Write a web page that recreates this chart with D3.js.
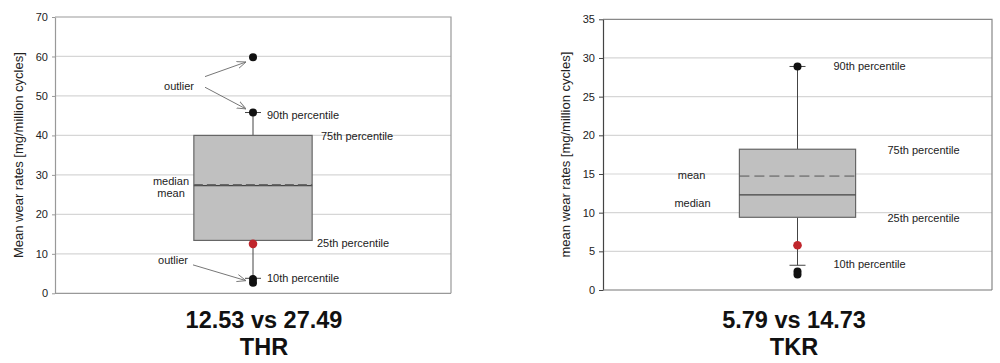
<!DOCTYPE html>
<html>
<head>
<meta charset="utf-8">
<script src="https://cdn.jsdelivr.net/npm/d3@7"></script>
<style>
  body { margin: 0; background: #fff; }
  svg { display: block; }
  text { font-family: "Liberation Sans", Arial, sans-serif; fill: #222; }
  .title { font-family: "Liberation Sans", Arial, sans-serif; font-weight: 700; fill: #111; }
</style>
</head>
<body>
<svg width="1000" height="363"></svg>
<script>
// chart values
const panelNames = ["THR", "TKR"];
const panelTitles = ["12.53 vs 27.49", "5.79 vs 14.73"];
const yLabels = ["Mean wear rates [mg/million cycles]", "mean wear rates [mg/million cycles]"];
const yTicks = [[0, 10, 20, 30, 40, 50, 60, 70], [0, 5, 10, 15, 20, 25, 30, 35]];
const p10 = [3.8, 3.2];
const q1 = [13.4, 9.4];
const median = [27.3, 12.3];
const mean = [27.49, 14.73];
const q3 = [40, 18.2];
const p90 = [45.8, 28.9];
const redPoints = [12.53, 5.79];
const blackDots = [[59.8, 45.8, 3.6, 2.7], [28.9, 2.4, 2.0]];

// annotation texts with their y value, x offset from the box centre
const notes = [
  [
    { t: "outlier", v: 52.6, dx: -74, a: "middle" },
    { t: "90th percentile", v: 45.1, dx: 14, a: "start" },
    { t: "75th percentile", v: 39.7, dx: 68, a: "start" },
    { t: "median", v: 28.3, dx: -82, a: "middle" },
    { t: "mean", v: 25.4, dx: -82, a: "middle" },
    { t: "25th percentile", v: 12.7, dx: 64, a: "start" },
    { t: "outlier", v: 8.45, dx: -80, a: "middle" },
    { t: "10th percentile", v: 3.8, dx: 14, a: "start" }
  ],
  [
    { t: "90th percentile", v: 28.9, dx: 36, a: "start" },
    { t: "75th percentile", v: 18.1, dx: 90, a: "start" },
    { t: "mean", v: 14.87, dx: -106, a: "middle" },
    { t: "median", v: 11.2, dx: -105, a: "middle" },
    { t: "25th percentile", v: 9.27, dx: 90, a: "start" },
    { t: "10th percentile", v: 3.36, dx: 36, a: "start" }
  ]
];
// arrows for the outlier notes: [x1, v1, x2, v2]
const arrows = [
  [[-48, 54.9, -7, 58.6], [-48, 52.2, -7, 46.7], [-60, 7.2, -7, 3.2]],
  []
];

// layout
const layout = [
  { left: 55, right: 451, top: 17, bottom: 293.3, axis: "#999", frame: "#999", tick: 3,
    labelX: 18, titleX: 264 },
  { left: 603, right: 992, top: 19.3, bottom: 290, axis: "#444", frame: "#888", tick: 4,
    labelX: 565, titleX: 794 }
];

const svg = d3.select("svg");

svg.append("defs").append("marker")
  .attr("id", "arr")
  .attr("viewBox", "0 0 10 10")
  .attr("refX", 10).attr("refY", 5)
  .attr("markerWidth", 9).attr("markerHeight", 9)
  .attr("markerUnits", "userSpaceOnUse")
  .attr("orient", "auto")
  .append("path")
  .attr("d", "M0,1 L10,5 L0,9")
  .attr("fill", "none")
  .attr("stroke", "#777")
  .attr("stroke-width", 1);

panelNames.forEach((name, i) => drawPanel(i));

function drawPanel(i) {
  const L = layout[i];
  const g = svg.append("g");
  const ticks = yTicks[i];

  const y = d3.scaleLinear()
    .domain([0, d3.max(ticks)])
    .range([L.bottom, L.top]);

  const x = d3.scaleBand()
    .domain([panelNames[i]])
    .range([L.left, L.right])
    .padding(0.54);

  const cx = x(panelNames[i]) + x.bandwidth() / 2;

  // gridlines
  g.append("g")
    .selectAll("line")
    .data(ticks.slice(1, -1))
    .enter()
    .append("line")
    .attr("x1", L.left).attr("x2", L.right)
    .attr("y1", d => y(d)).attr("y2", d => y(d))
    .attr("stroke", "#d6d6d6")
    .attr("stroke-width", 1.2);

  // frame top / right
  g.append("path")
    .attr("d", `M${L.left},${L.top}H${L.right}V${L.bottom}`)
    .attr("fill", "none")
    .attr("stroke", L.frame)
    .attr("stroke-width", 1.2);

  // y axis
  const ax = g.append("g")
    .attr("transform", `translate(${L.left},0)`)
    .call(d3.axisLeft(y).tickValues(ticks).tickSize(L.tick).tickSizeOuter(0).tickPadding(4));
  ax.select(".domain").attr("stroke", L.axis).attr("stroke-width", 1.2);
  ax.selectAll(".tick line").attr("stroke", L.axis);
  ax.selectAll(".tick text")
    .style("font-family", "'Liberation Sans', Arial, sans-serif")
    .style("font-size", "11px")
    .attr("fill", "#222");

  // bottom axis line
  g.append("line")
    .attr("x1", L.left).attr("x2", L.right)
    .attr("y1", y(0)).attr("y2", y(0))
    .attr("stroke", i === 0 ? "#999" : "#777")
    .attr("stroke-width", 1.2);

  // whiskers
  g.append("line")
    .attr("x1", cx).attr("x2", cx)
    .attr("y1", y(q3[i])).attr("y2", y(p90[i]))
    .attr("stroke", "#444");
  g.append("line")
    .attr("x1", cx).attr("x2", cx)
    .attr("y1", y(q1[i])).attr("y2", y(p10[i]))
    .attr("stroke", "#444");

  // caps
  g.selectAll(".cap")
    .data([p10[i], p90[i]])
    .enter()
    .append("line")
    .attr("x1", cx - 8).attr("x2", cx + 8)
    .attr("y1", d => y(d)).attr("y2", d => y(d))
    .attr("stroke", "#444");

  // box
  g.append("rect")
    .attr("x", x(panelNames[i]))
    .attr("y", y(q3[i]))
    .attr("width", x.bandwidth())
    .attr("height", y(q1[i]) - y(q3[i]))
    .attr("fill", "#c0c0c0")
    .attr("stroke", "#666")
    .attr("stroke-width", 1.2);

  // median (solid) and mean (dashed)
  g.append("line")
    .attr("x1", x(panelNames[i])).attr("x2", x(panelNames[i]) + x.bandwidth())
    .attr("y1", y(median[i])).attr("y2", y(median[i]))
    .attr("stroke", "#444")
    .attr("stroke-width", 1.2);
  g.append("line")
    .attr("x1", x(panelNames[i])).attr("x2", x(panelNames[i]) + x.bandwidth())
    .attr("y1", y(mean[i])).attr("y2", y(mean[i]))
    .attr("stroke", i === 0 ? "#666" : "#555")
    .attr("stroke-width", i === 0 ? 1.6 : 1)
    .attr("stroke-dasharray", i === 0 ? "9,4" : "10,5");

  // dots
  g.selectAll(".dot")
    .data(blackDots[i])
    .enter()
    .append("circle")
    .attr("cx", cx)
    .attr("cy", d => y(d))
    .attr("r", 4)
    .attr("fill", "#111");

  g.append("circle")
    .attr("cx", cx)
    .attr("cy", y(redPoints[i]))
    .attr("r", 4.3)
    .attr("fill", "#c0262c");

  // outlier arrows
  g.selectAll(".arrow")
    .data(arrows[i])
    .enter()
    .append("line")
    .attr("x1", d => cx + d[0]).attr("y1", d => y(d[1]))
    .attr("x2", d => cx + d[2]).attr("y2", d => y(d[3]))
    .attr("stroke", "#777")
    .attr("stroke-width", 1)
    .attr("marker-end", "url(#arr)");

  // annotation texts
  g.selectAll(".note")
    .data(notes[i])
    .enter()
    .append("text")
    .attr("x", d => cx + d.dx)
    .attr("y", d => y(d.v))
    .attr("dy", "0.35em")
    .attr("text-anchor", d => d.a)
    .style("font-size", "11px")
    .text(d => d.t);

  // y label
  g.append("text")
    .attr("transform", `translate(${L.labelX},${(L.top + L.bottom) / 2}) rotate(-90)`)
    .attr("dy", "0.35em")
    .attr("text-anchor", "middle")
    .style("font-size", "13px")
    .text(yLabels[i]);

  // two-line title below the chart
  const title = g.append("text")
    .attr("class", "title")
    .attr("x", L.titleX)
    .attr("y", 328)
    .attr("text-anchor", "middle")
    .style("font-size", "23.5px");
  title.append("tspan")
    .attr("x", L.titleX)
    .text(panelTitles[i]);
  title.append("tspan")
    .attr("x", L.titleX)
    .attr("dy", 27)
    .text(panelNames[i]);
}
</script>
</body>
</html>
